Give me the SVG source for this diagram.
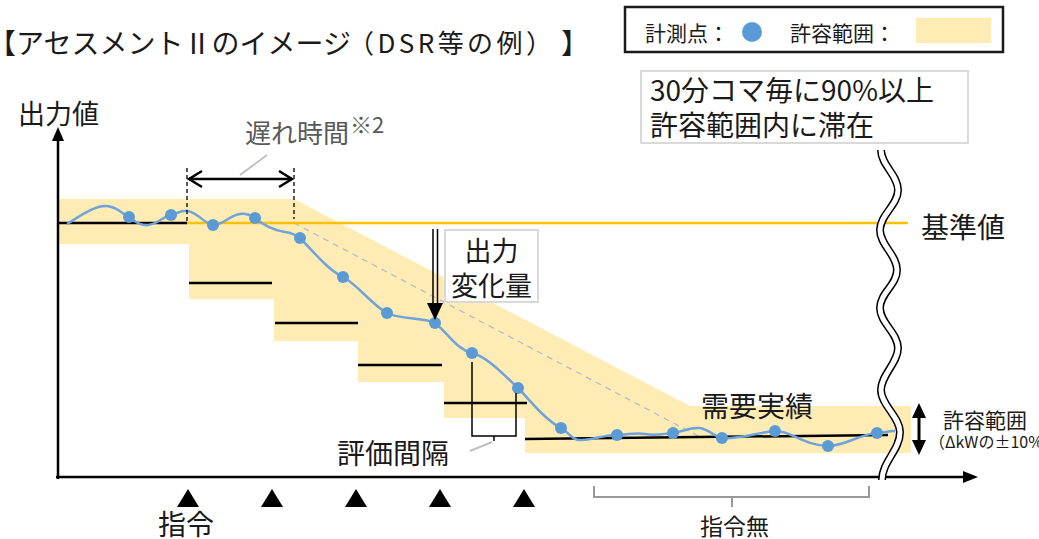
<svg xmlns="http://www.w3.org/2000/svg" width="1039" height="539" viewBox="0 0 1039 539">
  <style>
    .t { font-family: 'Noto Sans CJK JP', 'Noto Sans', sans-serif; fill: #1a1a1a; }
    .band { fill: #FFECB5; }
    .blk { stroke: #000; stroke-width: 2.5; fill: none; }
    .step { stroke: #000; stroke-width: 2.5; }
    .pt { fill: #5B9BD5; }
    .gbox { fill: #fff; stroke: #d9d9d9; stroke-width: 2; }
    .lead { stroke: #bfbfbf; stroke-width: 2; fill: none; }
  </style>
  <rect width="1039" height="539" fill="#fff"/>

  <!-- Title -->
  <g id="title">
    <text class="t" x="-12" y="54" font-size="28">【アセスメントⅡのイメージ</text>
    <text class="t" x="348" y="53" font-size="26" textLength="204" lengthAdjust="spacing">（DSR等の例）</text>
    <text class="t" x="561" y="54" font-size="28">】</text>
  </g>

  <!-- Legend -->
  <g id="legend">
    <rect x="625" y="7" width="378" height="45" fill="#fff" stroke="#1a1a1a" stroke-width="2.5"/>
    <text class="t" x="645" y="41" font-size="21">計測点：</text>
    <circle cx="752" cy="32" r="10" class="pt"/>
    <text class="t" x="790" y="41" font-size="21">許容範囲：</text>
    <rect x="916" y="18" width="75" height="25" class="band"/>
  </g>

  <!-- Tolerance band -->
  <g id="band">
    <polygon class="band" points="58,199 294,199 690,406 911,406 911,453 525,453 525,418 444,418 444,382 358,382 358,341 274,341 274,299 189,299 189,244 58,244"/>
  </g>

  <!-- Reference lines -->
  <g id="reference-lines">
    <line x1="294" y1="223" x2="700" y2="437" stroke="#b4bccb" stroke-width="1.3" stroke-dasharray="6,5"/>
    <line x1="186" y1="223" x2="908" y2="223" stroke="#FFC000" stroke-width="2.5"/>
    <line x1="58" y1="223" x2="187" y2="223" class="step"/>
    <line x1="189" y1="283" x2="272" y2="283" class="step"/>
    <line x1="275" y1="323" x2="358" y2="323" class="step"/>
    <line x1="358" y1="365" x2="442" y2="365" class="step"/>
    <line x1="444" y1="403" x2="527" y2="403" class="step"/>
    <line x1="525" y1="439" x2="888" y2="435" class="step"/>
  </g>

  <!-- Measured curve -->
  <g id="measured">
    <path fill="none" stroke="#6FA3DA" stroke-width="2.5" d="M67,224 C80,216 95,205 107,206 C118,207 122,214 129,217 C135,221 140,226 148,225 C158,224 164,216 171,215 C178,213 182,210 188,211 C198,213 205,224 213,225 C222,226 230,215 240,214 C248,213 252,216 255,218 C262,224 272,230 285,232 C292,233 296,235 300,238 C312,250 328,270 343,277 C358,285 372,305 387,313 C400,320 425,317 435,323 C448,333 456,349 472,353 C488,357 505,376 518,388 C530,400 545,420 561,428 C570,433 572,441 582,440 C595,439 605,435 617,435 C628,435 635,432 645,434 C655,436 662,434 673,433 C685,431 690,427 700,428 C710,430 715,437 722,438 C735,440 760,432 775,431 C790,430 805,446 828,446 C845,446 860,434 877,433 C885,432 890,431 895,431"/>
    <circle class="pt" cx="129" cy="217" r="6"/>
    <circle class="pt" cx="171" cy="215" r="6"/>
    <circle class="pt" cx="213" cy="225" r="6"/>
    <circle class="pt" cx="255" cy="218" r="6"/>
    <circle class="pt" cx="300" cy="238" r="6"/>
    <circle class="pt" cx="343" cy="277" r="6"/>
    <circle class="pt" cx="387" cy="313" r="6"/>
    <circle class="pt" cx="435" cy="323" r="6"/>
    <circle class="pt" cx="472" cy="353" r="6"/>
    <circle class="pt" cx="518" cy="388" r="6"/>
    <circle class="pt" cx="561" cy="428" r="6"/>
    <circle class="pt" cx="617" cy="435" r="6"/>
    <circle class="pt" cx="673" cy="433" r="6"/>
    <circle class="pt" cx="722" cy="438" r="6"/>
    <circle class="pt" cx="775" cy="431" r="6"/>
    <circle class="pt" cx="828" cy="446" r="6"/>
    <circle class="pt" cx="877" cy="433" r="6"/>
  </g>

  <!-- Axes -->
  <g id="axes">
    <line x1="58" y1="479" x2="58" y2="138" class="blk"/>
    <polygon points="58,127 52,141 64,141" fill="#000"/>
    <line x1="56" y1="477" x2="965" y2="477" class="blk"/>
    <polygon points="978,477 963,471 963,483" fill="#000"/>
    <text class="t" x="18" y="124" font-size="27">出力値</text>
  </g>

  <!-- Break mark -->
  <g id="break">
    <path d="M881,150 C881,165 898,175 898,190 C898,205 880,215 880,230 C880,245 897,255 897,270 C897,285 880,293 880,308 C880,323 898,333 898,348 C898,363 881,375 881,390 C881,405 900,417 900,432 C900,450 882,462 882,480" fill="none" stroke="#000" stroke-width="8"/>
    <path d="M881,150 C881,165 898,175 898,190 C898,205 880,215 880,230 C880,245 897,255 897,270 C897,285 880,293 880,308 C880,323 898,333 898,348 C898,363 881,375 881,390 C881,405 900,417 900,432 C900,450 882,462 882,480" fill="none" stroke="#fff" stroke-width="5"/>
  </g>

  <!-- Connectors / annotations -->
  <g id="connectors">
    <line x1="187" y1="168" x2="187" y2="223" stroke="#000" stroke-width="1.3" stroke-dasharray="4,3"/>
    <line x1="294" y1="168" x2="294" y2="219" stroke="#000" stroke-width="1.3" stroke-dasharray="4,3"/>
    <line x1="189" y1="179" x2="292" y2="179" class="blk"/>
    <polyline points="202,171 189,179 202,187" class="blk"/>
    <polyline points="279,171 292,179 279,187" class="blk"/>
    <line x1="240" y1="175" x2="267" y2="155" class="lead"/>
    <line x1="433" y1="229" x2="433" y2="305" stroke="#000" stroke-width="1.5"/>
    <line x1="437.5" y1="229" x2="437.5" y2="305" stroke="#000" stroke-width="1.5"/>
    <polygon points="427,303 443,303 435,320" fill="#000"/>
    <path d="M472,362 V436 H516 V393 M494,436 V441" fill="none" stroke="#000" stroke-width="1.5"/>
    <line x1="492" y1="442" x2="470" y2="451" class="lead"/>
    <line x1="919" y1="415" x2="919" y2="443" stroke="#000" stroke-width="3"/>
    <polygon points="919,403 912,418 926,418" fill="#000"/>
    <polygon points="919,455 912,440 926,440" fill="#000"/>
    <path d="M594,486 V497 H869 V486 M732,497 V507" fill="none" stroke="#999" stroke-width="2"/>
  </g>

  <!-- Command markers -->
  <g id="commands">
    <polygon points="188,489 177,507 199,507" fill="#000"/>
    <polygon points="272,489 261,507 283,507" fill="#000"/>
    <polygon points="356,489 345,507 367,507" fill="#000"/>
    <polygon points="440,489 429,507 451,507" fill="#000"/>
    <polygon points="524,489 513,507 535,507" fill="#000"/>
    <text class="t" x="158" y="535" font-size="28">指令</text>
    <text class="t" x="700" y="535" font-size="23">指令無</text>
  </g>

  <!-- Labels -->
  <g id="label-lag">
    <text class="t" x="245" y="143" font-size="26" style="fill:#595959">遅れ時間</text>
    <text class="t" x="350" y="133" font-size="22" style="fill:#595959">※2</text>
  </g>
  <g id="label-change">
    <rect x="445" y="230" width="93" height="72" class="gbox"/>
    <text class="t" x="491.5" y="261" font-size="27" text-anchor="middle">出力</text>
    <text class="t" x="491.5" y="296" font-size="27" text-anchor="middle">変化量</text>
  </g>
  <g id="label-rule">
    <rect x="641" y="71" width="327" height="72" class="gbox"/>
    <text class="t" x="650" y="101" font-size="28">30分コマ毎に90%以上</text>
    <text class="t" x="650" y="136" font-size="28">許容範囲内に滞在</text>
  </g>
  <g id="label-base">
    <text class="t" x="921" y="238" font-size="28">基準値</text>
  </g>
  <g id="label-demand">
    <text class="t" x="701" y="417" font-size="28">需要実績</text>
  </g>
  <g id="label-interval">
    <text class="t" x="337" y="464" font-size="28">評価間隔</text>
  </g>
  <g id="label-tolerance">
    <text class="t" x="943" y="428" font-size="21">許容範囲</text>
    <text class="t" x="929" y="448" font-size="16">（ΔkWの±10%）</text>
  </g>
</svg>
